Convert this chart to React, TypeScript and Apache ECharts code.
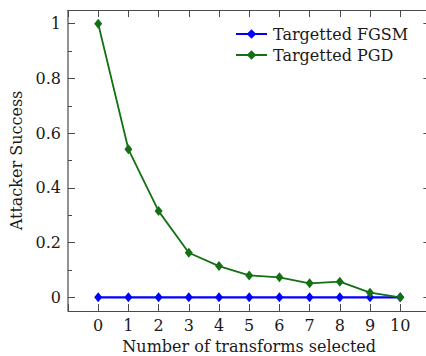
import React, { useEffect, useRef } from "react";
import * as echarts from "echarts";

const transforms = [0, 1, 2, 3, 4, 5, 6, 7, 8, 9, 10];
const fgsmSuccess = [0, 0, 0, 0, 0, 0, 0, 0, 0, 0, 0];
const pgdSuccess = [1, 0.541, 0.315, 0.163, 0.114, 0.08, 0.073, 0.051, 0.057, 0.017, 0];
const seriesNames = ["Targetted FGSM", "Targetted PGD"];

const FONT = "DejaVu Serif";
const AX = "#4a4a4a";

export default function App() {
  const ref = useRef<HTMLDivElement>(null);
  useEffect(() => {
    if (!ref.current) return;
    const chart = echarts.init(ref.current, undefined, { renderer: "svg" });
    const gLeft = 68;
    const xUnit = 30.2;
    const gWidth = xUnit * 12;
    const yUnit = 273.6;
    const gTop = 23.7;
    const pad = 0.05 * yUnit;
    const boxTop = gTop - pad;
    const boxBottom = gTop + yUnit + pad;
    const tickStyle = { show: true, inside: true, length: 7, lineStyle: { color: AX, width: 1 } };
    const minorStyle = { show: true, splitNumber: 2, length: 4, lineStyle: { color: AX, width: 1 } };
    const lineOn = { show: true, onZero: false, lineStyle: { color: AX, width: 1.2 } };
    const lineOff = { show: false, onZero: false };
    const textBase = { fontFamily: FONT, fontSize: 16, color: "#1a1a1a" };
    chart.setOption({
      animation: false,
      backgroundColor: "#ffffff",
      grid: {
        left: gLeft,
        top: gTop,
        width: gWidth,
        height: yUnit,
        containLabel: false,
        outerBoundsMode: "none",
      },
      legend: {
        orient: "vertical",
        left: 235,
        top: 26,
        padding: 0,
        itemWidth: 31,
        itemHeight: 12,
        itemGap: 5,
        textStyle: { ...textBase, padding: [0, 0, 0, 1] },
        data: seriesNames,
      },
      xAxis: [
        {
          type: "value",
          min: -1,
          max: 11,
          interval: 1,
          position: "bottom",
          offset: pad,
          axisLine: lineOn,
          axisTick: tickStyle,
          splitLine: { show: false },
          axisLabel: {
            ...textBase,
            margin: 7,
            formatter: (v: number) => (v < 0 || v > 10 ? "" : String(v)),
          },
          name: "Number of transforms selected",
          nameLocation: "middle",
          nameGap: 28,
          nameTextStyle: textBase,
        },
        {
          type: "value",
          min: -1,
          max: 11,
          interval: 1,
          position: "top",
          offset: pad,
          axisLine: lineOn,
          axisTick: tickStyle,
          splitLine: { show: false },
          axisLabel: { show: false },
        },
      ],
      yAxis: [
        {
          type: "value",
          min: 0,
          max: 1,
          interval: 0.2,
          position: "left",
          axisLine: lineOff,
          axisTick: tickStyle,
          minorTick: minorStyle,
          splitLine: { show: false },
          axisLabel: { ...textBase, margin: 7 },
          name: "Attacker Success",
          nameLocation: "middle",
          nameGap: 42,
          nameTextStyle: textBase,
        },
        {
          type: "value",
          min: 0,
          max: 1,
          interval: 0.2,
          position: "right",
          axisLine: lineOff,
          axisTick: tickStyle,
          minorTick: minorStyle,
          splitLine: { show: false },
          axisLabel: { show: false },
        },
      ],
      graphic: [
        {
          type: "line",
          z: 100,
          silent: true,
          shape: { x1: gLeft, y1: boxTop, x2: gLeft, y2: boxBottom },
          style: { stroke: AX, lineWidth: 1.2 },
        },
        {
          type: "line",
          z: 100,
          silent: true,
          shape: { x1: gLeft + gWidth, y1: boxTop, x2: gLeft + gWidth, y2: boxBottom },
          style: { stroke: AX, lineWidth: 1.2 },
        },
      ],
      series: [
        {
          name: seriesNames[0],
          type: "line",
          data: transforms.map((x, i) => [x, fgsmSuccess[i]]),
          symbol: "diamond",
          symbolSize: [8, 10],
          clip: false,
          color: "#0000ff",
          lineStyle: { color: "#0000ff", width: 2.2 },
          itemStyle: { color: "#0000ff" },
        },
        {
          name: seriesNames[1],
          type: "line",
          data: transforms.map((x, i) => [x, pgdSuccess[i]]),
          symbol: "diamond",
          symbolSize: [8, 10],
          clip: false,
          color: "#137013",
          lineStyle: { color: "#137013", width: 1.8 },
          itemStyle: { color: "#137013" },
        },
      ],
    });
    return () => chart.dispose();
  }, []);
  return (
    <div
      ref={ref}
      style={{ position: "fixed", left: 0, top: 0, width: 426, height: 356, background: "#fff" }}
    />
  );
}
